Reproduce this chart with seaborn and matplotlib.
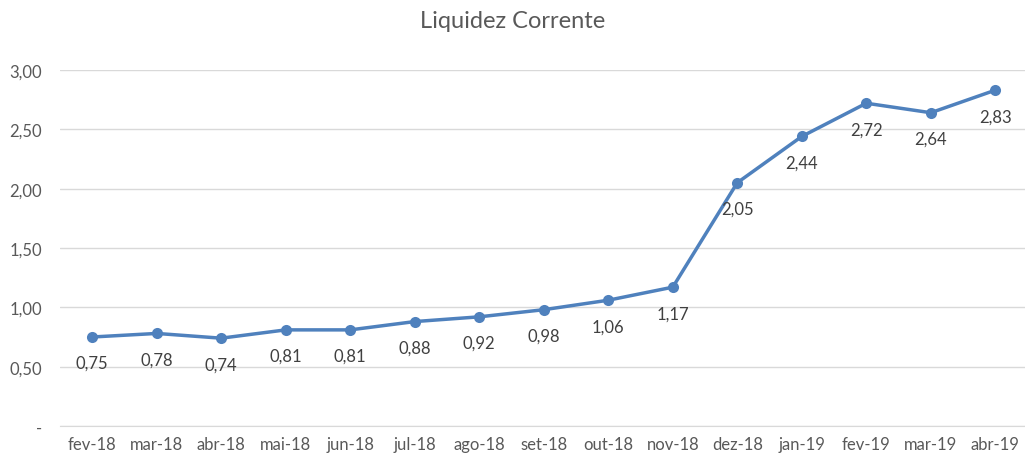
import numpy as np
import pandas as pd
import matplotlib
matplotlib.use("Agg")
import matplotlib.pyplot as plt
import seaborn as sns

# =====================================
# DATA
# =====================================

months = ["fev-18", "mar-18", "abr-18", "mai-18", "jun-18", "jul-18", "ago-18",
          "set-18", "out-18", "nov-18", "dez-18", "jan-19", "fev-19", "mar-19", "abr-19"]
liquidez = [0.75, 0.78, 0.74, 0.81, 0.81, 0.88, 0.92, 0.98, 1.06, 1.17,
            2.05, 2.44, 2.72, 2.64, 2.83]
y_ticks = [0, 0.5, 1.0, 1.5, 2.0, 2.5, 3.0]
y_labels = ["-", "0,50", "1,00", "1,50", "2,00", "2,50", "3,00"]

LINE_COLOR = "#4F81BD"
TEXT_COLOR = "#595959"

# =====================================
# PLOT
# =====================================

sns.set_style("white")
plt.rcParams["font.family"] = ["Lato", "DejaVu Sans"]

df = pd.DataFrame({"mes": months, "valor": liquidez})

fig = plt.figure(figsize=(10.25, 4.56), dpi=100)
ax = fig.add_axes([0.0585, 0.0636, 0.944, 0.7807])

sns.lineplot(data=df, x="mes", y="valor", sort=False, ax=ax,
             color=LINE_COLOR, linewidth=2.5, marker="o",
             markersize=8, markeredgewidth=0)

# data labels under each point
for i, v in enumerate(liquidez):
    ax.annotate(f"{v:.2f}".replace(".", ","), (i, v),
                xytext=(0, -13), textcoords="offset points",
                ha="center", va="top", fontsize=12, color="#404040")

ax.set_xlim(-0.5, len(months) - 0.5)
ax.set_ylim(0, 3.0)
ax.set_yticks(y_ticks)
ax.set_yticklabels(y_labels)
ax.set_xticks(range(len(months)))
ax.set_xticklabels(months)
ax.set_xticks(np.arange(-0.5, len(months), 1.0), minor=True)

ax.grid(axis="y", color="#d9d9d9", linewidth=1)
ax.set_axisbelow(True)
for side in ["top", "right", "left"]:
    ax.spines[side].set_visible(False)
ax.spines["bottom"].set_color("#d9d9d9")

ax.tick_params(axis="x", which="major", length=0, pad=7,
               labelsize=12, labelcolor=TEXT_COLOR)
ax.tick_params(axis="x", which="minor", length=5, color="#d9d9d9")
ax.tick_params(axis="y", length=0, pad=13, labelsize=12, labelcolor=TEXT_COLOR)

ax.set_xlabel("")
ax.set_ylabel("")

fig.suptitle("Liquidez Corrente", y=0.975, fontsize=17, color=TEXT_COLOR)

fig.savefig("out.png", dpi=100)
